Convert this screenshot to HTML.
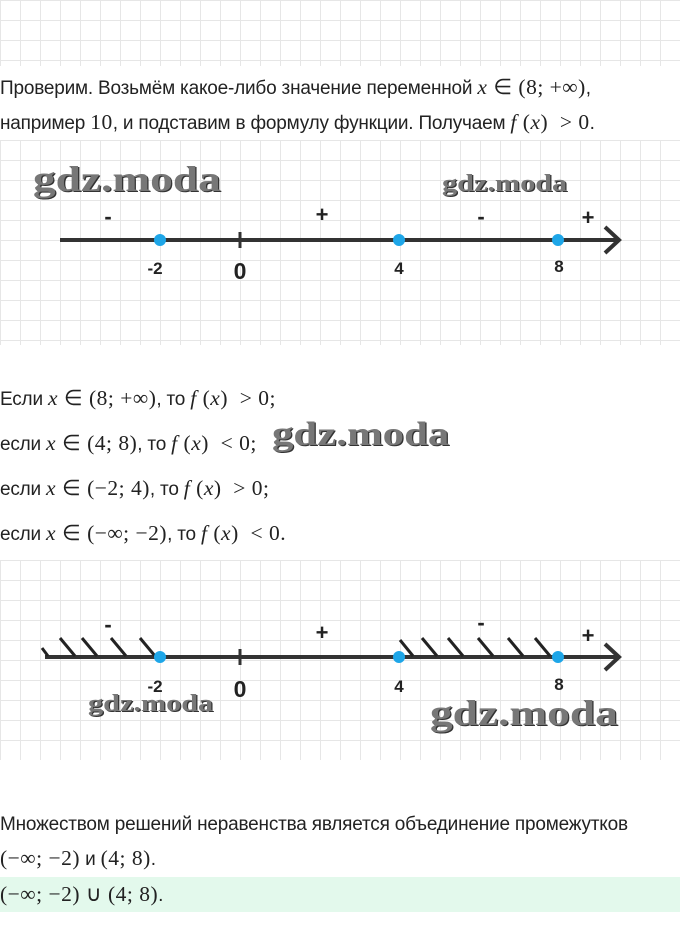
<!DOCTYPE html>
<html><head><meta charset="utf-8"><style>
body{margin:0;width:680px;height:947px;background:#fff;position:relative;overflow:hidden;font-family:"Liberation Sans",sans-serif;color:#222}
.grid{position:absolute;left:0;width:680px;background-image:linear-gradient(#e6e6e6 1px,transparent 1px),linear-gradient(90deg,#e6e6e6 1px,transparent 1px);background-size:20px 20px}
.t{position:absolute;left:0;font-size:19px;white-space:nowrap;letter-spacing:-0.2px}
.m{font-family:"Liberation Serif",serif;font-size:21.5px;letter-spacing:0.5px}
.wm{position:absolute;font-family:"Liberation Serif",serif;font-weight:bold;color:#777;text-shadow:1px 1px 0 #333;transform-origin:0 0;transform:scaleX(1.26)}
</style></head><body>
<div class="grid" style="top:0;height:66px"></div>
<div class="grid" style="top:140px;height:205px"></div>
<div class="grid" style="top:560px;height:200px"></div>
<div class="t" style="top:75px">Проверим. Возьмём какое-либо значение переменной <span class="m"><i>x</i> ∈ (8; +∞)</span>,</div>
<div class="t" style="top:110px">например <span class="m">10</span>, и подставим в формулу функции. Получаем <span class="m"><i>f</i> (<i>x</i>) &nbsp;&gt; 0</span>.</div>
<div class="wm" style="left:33px;top:158px;font-size:36px">gdz.moda</div>
<div class="wm" style="left:442px;top:171px;font-size:24px">gdz.moda</div>
<svg style="position:absolute;left:0;top:140px" width="680" height="205">
<line x1="60" y1="100" x2="618" y2="100" stroke="#333" stroke-width="4"/>
<polyline points="605,87 619,100 605,113" fill="none" stroke="#333" stroke-width="4"/>
<line x1="240" y1="92" x2="240" y2="108" stroke="#333" stroke-width="3"/>
<g fill="#1ea6e8"><circle cx="160" cy="100" r="6"/><circle cx="399" cy="100" r="6"/><circle cx="558" cy="100" r="6"/></g>
<g font-family="Liberation Sans" font-weight="bold" fill="#222" text-anchor="middle">
<text x="108" y="84" font-size="22">-</text><text x="322" y="82" font-size="22">+</text><text x="481" y="84" font-size="22">-</text><text x="588" y="85" font-size="22">+</text>
<text x="155" y="134" font-size="17">-2</text><text x="240" y="139" font-size="23">0</text><text x="399" y="134" font-size="17">4</text><text x="559" y="132" font-size="17">8</text></g>
</svg>
<div class="t" style="top:386px">Если <span class="m"><i>x</i> ∈ (8; +∞)</span>, то <span class="m"><i>f</i> (<i>x</i>) &nbsp;&gt; 0;</span></div>
<div class="t" style="top:431px">если <span class="m"><i>x</i> ∈ (4; 8)</span>, то <span class="m"><i>f</i> (<i>x</i>) &nbsp;&lt; 0;</span></div>
<div class="wm" style="left:272px;top:416px;font-size:34px">gdz.moda</div>
<div class="t" style="top:476px">если <span class="m"><i>x</i> ∈ (−2; 4)</span>, то <span class="m"><i>f</i> (<i>x</i>) &nbsp;&gt; 0;</span></div>
<div class="t" style="top:521px">если <span class="m"><i>x</i> ∈ (−∞; −2)</span>, то <span class="m"><i>f</i> (<i>x</i>) &nbsp;&lt; 0.</span></div>
<svg style="position:absolute;left:0;top:560px" width="680" height="200">
<line x1="45" y1="97" x2="618" y2="97" stroke="#333" stroke-width="4"/>
<polyline points="605,84 619,97 605,110" fill="none" stroke="#333" stroke-width="4"/>
<line x1="240" y1="89" x2="240" y2="105" stroke="#333" stroke-width="3"/>
<g stroke="#222" stroke-width="3">
<line x1="42" y1="88" x2="48" y2="96"/><line x1="60" y1="78" x2="75" y2="96"/><line x1="82" y1="78" x2="97" y2="96"/><line x1="111" y1="78" x2="126" y2="96"/><line x1="140" y1="78" x2="155" y2="96"/>
<line x1="400" y1="80" x2="413" y2="96"/><line x1="422" y1="78" x2="437" y2="96"/><line x1="448" y1="78" x2="463" y2="96"/><line x1="478" y1="78" x2="493" y2="96"/><line x1="508" y1="78" x2="523" y2="96"/><line x1="535" y1="78" x2="550" y2="96"/></g>
<g fill="#1ea6e8"><circle cx="160" cy="97" r="6"/><circle cx="399" cy="97" r="6"/><circle cx="558" cy="97" r="6"/></g>
<g font-family="Liberation Sans" font-weight="bold" fill="#222" text-anchor="middle">
<text x="108" y="72" font-size="22">-</text><text x="322" y="80" font-size="22">+</text><text x="481" y="70" font-size="22">-</text><text x="588" y="83" font-size="22">+</text>
<text x="155" y="132" font-size="17">-2</text><text x="240" y="137" font-size="23">0</text><text x="399" y="132" font-size="17">4</text><text x="559" y="130" font-size="17">8</text></g>
</svg>
<div class="wm" style="left:88px;top:691px;font-size:24px">gdz.moda</div>
<div class="wm" style="left:430px;top:692px;font-size:36px">gdz.moda</div>
<div class="t" style="top:814px">Множеством решений неравенства является объединение промежутков</div>
<div class="t" style="top:846px"><span class="m">(−∞; −2)</span> и <span class="m">(4; 8)</span>.</div>
<div style="position:absolute;left:0;top:877px;width:680px;height:35px;background:#e3f9ec"></div>
<div class="t" style="top:882px"><span class="m">(−∞; −2) ∪ (4; 8)</span>.</div>
</body></html>
